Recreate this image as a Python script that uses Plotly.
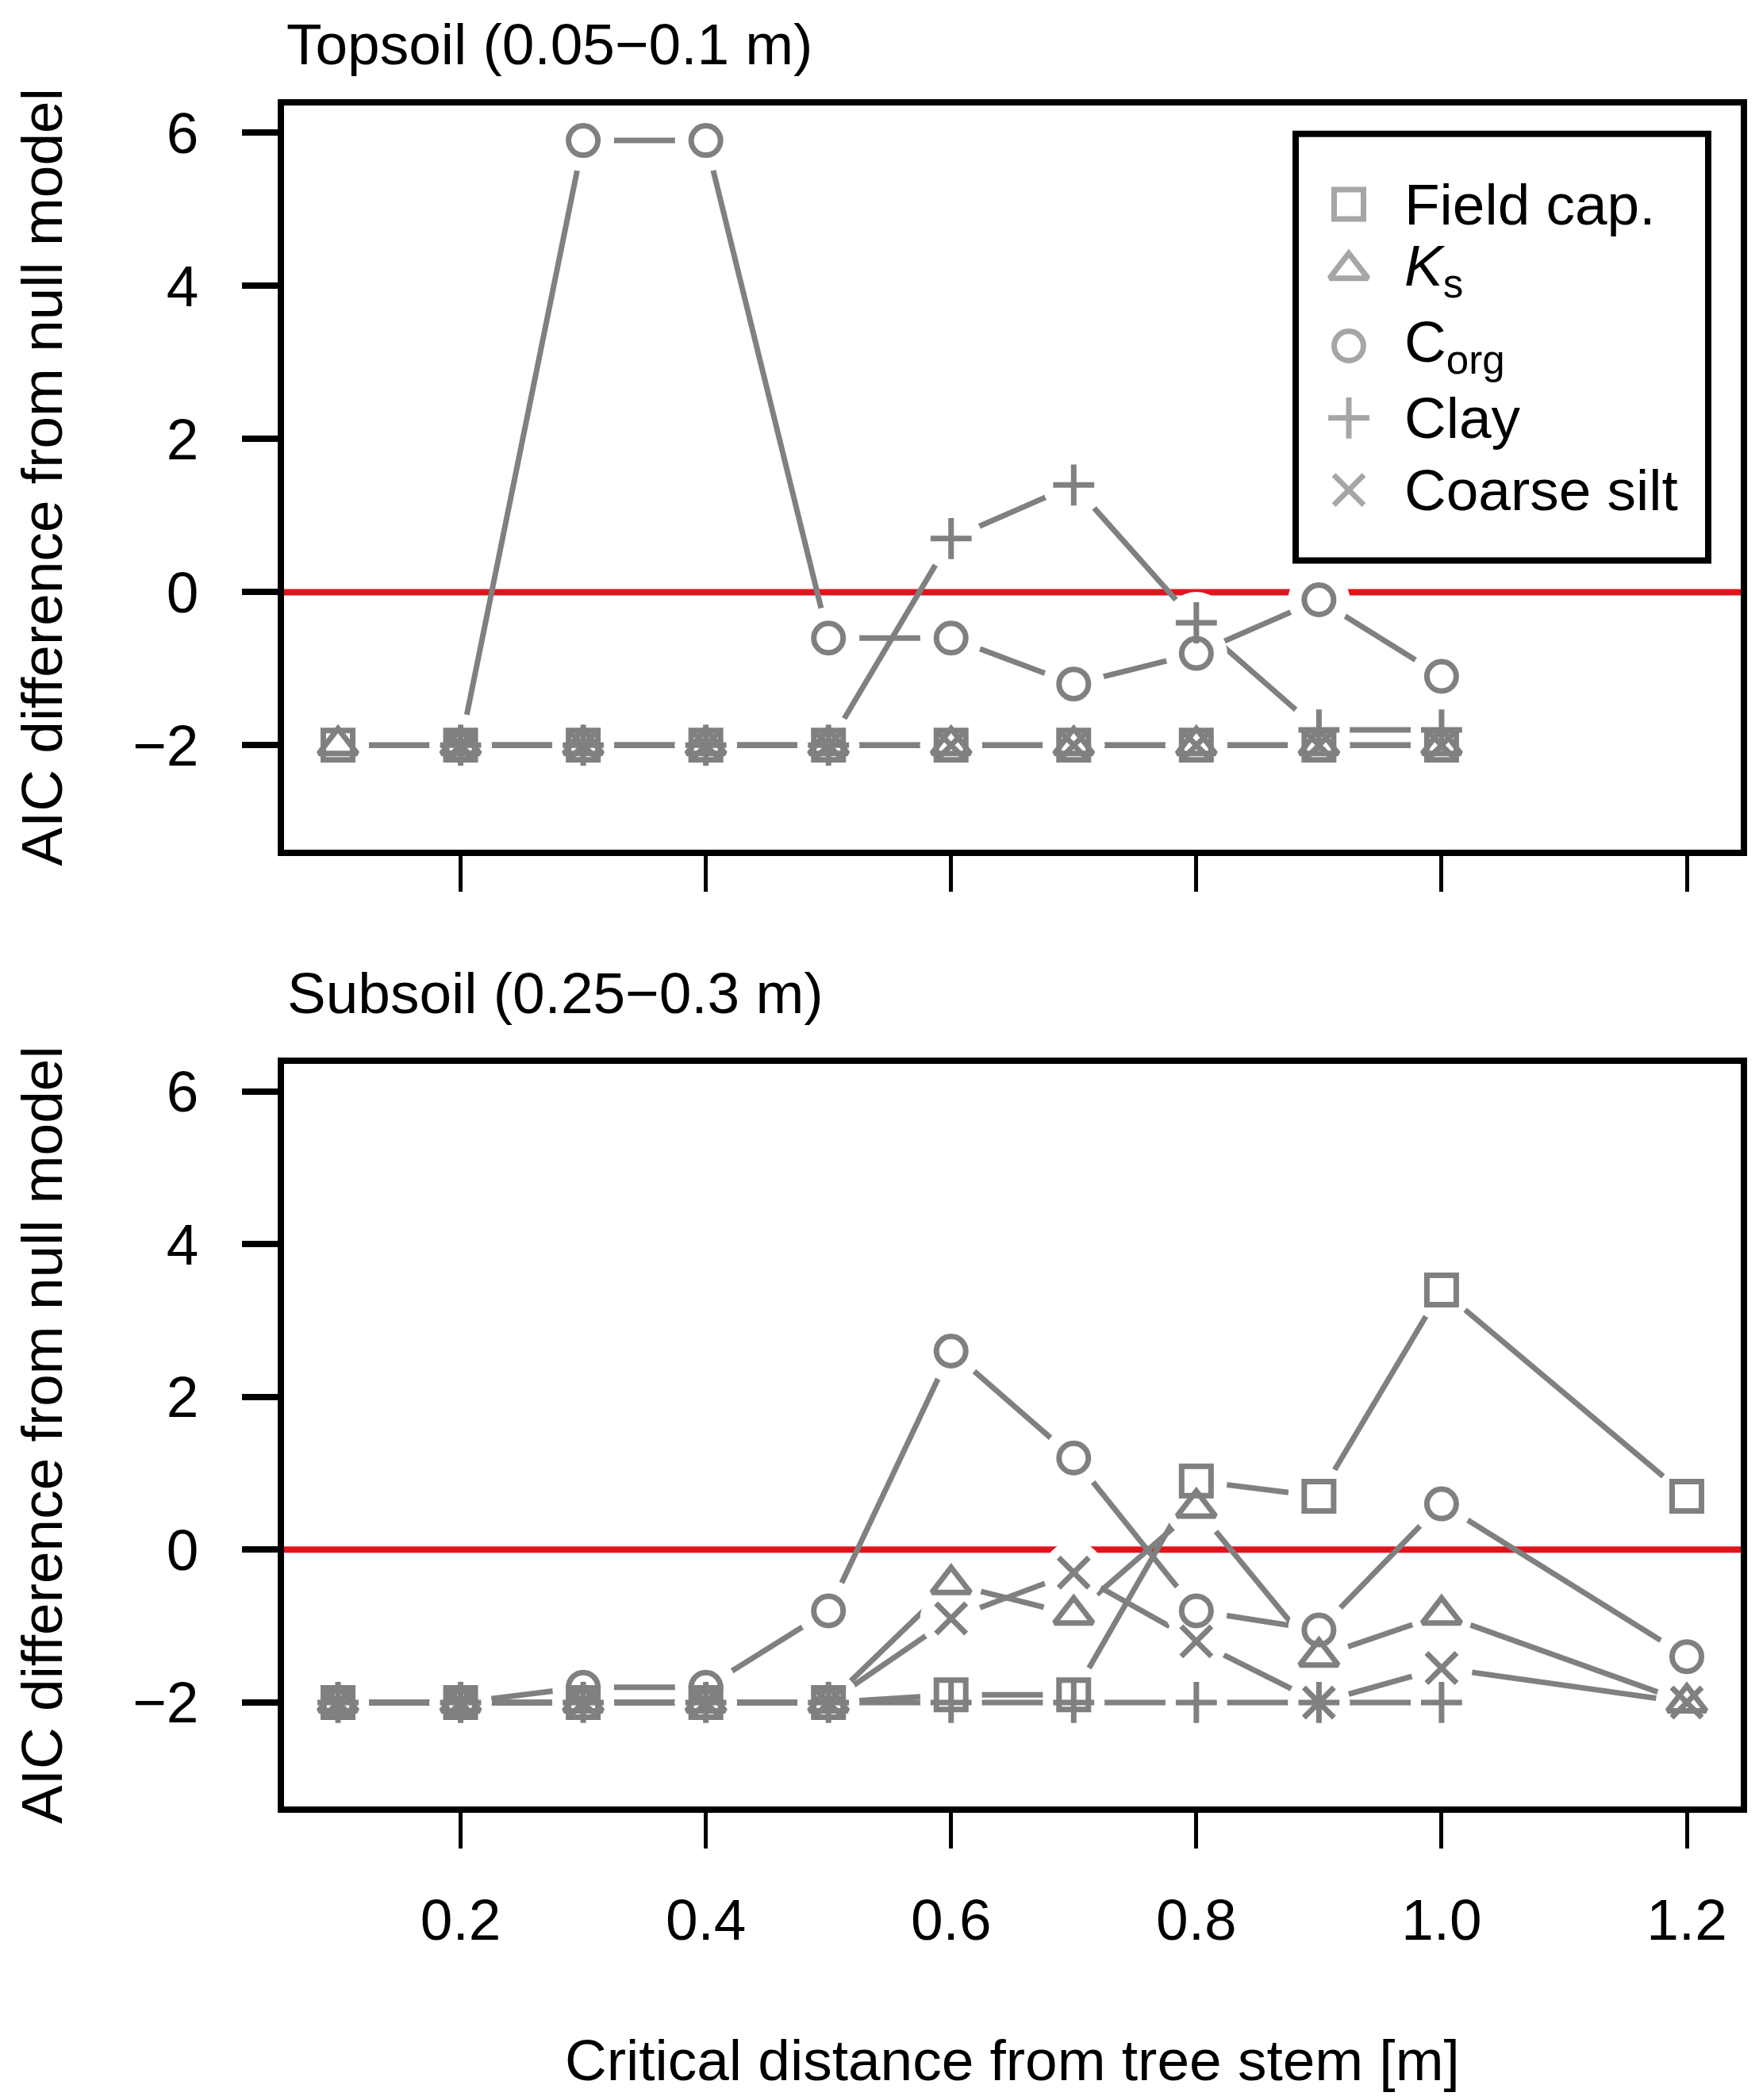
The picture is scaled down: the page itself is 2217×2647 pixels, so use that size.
import plotly.graph_objects as go

# critical distances from the tree stem (m)
dist_top = [0.1, 0.2, 0.3, 0.4, 0.5, 0.6, 0.7, 0.8, 0.9, 1.0]
dist_sub = [0.1, 0.2, 0.3, 0.4, 0.5, 0.6, 0.7, 0.8, 0.9, 1.0, 1.2]

# AIC difference from null model, topsoil (0.05-0.1 m)
top_fieldcap = [-2, -2, -2, -2, -2, -2, -2, -2, -2, -2]
top_ks = [-2, -2, -2, -2, -2, -2, -2, -2, -2, -2]
top_corg = [None, -2, 5.9, 5.9, -0.6, -0.6, -1.2, -0.8, -0.1, -1.1]
top_clay = [None, -2, -2, -2, -2, 0.7, 1.4, -0.4, -1.8, -1.8]
top_silt = [None, -2, -2, -2, -2, -2, -2, -2, -2, -2]

# AIC difference from null model, subsoil (0.25-0.3 m)
sub_fieldcap = [-2, -2, -2, -2, -2, -1.9, -1.9, 0.9, 0.7, 3.4, 0.7]
sub_ks = [-2, -2, -2, -2, -2, -0.45, -0.85, 0.55, -1.4, -0.85, -2]
sub_corg = [-2, -2, -1.8, -1.8, -0.8, 2.6, 1.2, -0.8, -1.05, 0.6, -1.4]
sub_clay = [-2, -2, -2, -2, -2, -2, -2, -2, -2, -2, None]
sub_silt = [-2, -2, -2, -2, -2, -0.9, -0.3, -1.2, -2, -1.55, -2]

labels = ["Field cap.", "<i>K</i><sub>s</sub>", "C<sub>org</sub>", "Clay", "Coarse silt"]
x_ticks = [0.2, 0.4, 0.6, 0.8, 1.0, 1.2]
y_ticks = [-2, 0, 2, 4, 6]

# styling
W, H = 2217, 2647
GREY = "#7f8080"
RED = "#e0141c"
FONT = "Liberation Sans, Arial, sans-serif"
FS = 73
symbols = ["square-open", "triangle-up-open", "circle-open", "cross-thin-open", "x-thin-open"]
sizes = [37, 42, 37, 37, 38]
txt = dict(family=FONT, size=FS, color="black")


def px(p):
    return p / W


def py(p):
    return 1 - p / H


panels = [
    ("x", "y", dist_top, [top_fieldcap, top_ks, top_corg, top_clay, top_silt]),
    ("x2", "y2", dist_sub, [sub_fieldcap, sub_ks, sub_corg, sub_clay, sub_silt]),
]

fig = go.Figure()

for xa, ya, xs, series in panels:
    # lines first
    for vals in series:
        fig.add_trace(go.Scatter(x=xs, y=vals, mode="lines", xaxis=xa, yaxis=ya,
                                 line=dict(color=GREY, width=7), showlegend=False,
                                 hoverinfo="skip"))
    # white gaps around points (like R type="b")
    for vals in series:
        fig.add_trace(go.Scatter(x=xs, y=vals, mode="markers", xaxis=xa, yaxis=ya,
                                 marker=dict(symbol="circle", size=78, color="white",
                                             line=dict(width=0)),
                                 showlegend=False, hoverinfo="skip"))
    # symbols
    for vals, name, sym, sz in zip(series, labels, symbols, sizes):
        fig.add_trace(go.Scatter(x=xs, y=vals, mode="markers", xaxis=xa, yaxis=ya,
                                 name=name,
                                 marker=dict(symbol=sym, size=sz, color=GREY,
                                             line=dict(color=GREY, width=7)),
                                 showlegend=False))

# hand-drawn legend box (R style) on its own pixel-scaled axes
leg_rows = [244, 327, 423, 514, 605]
fig.add_trace(go.Scatter(x=[1692] * len(labels), y=leg_rows, mode="markers",
                         xaxis="x3", yaxis="y3",
                         marker=dict(symbol=symbols, size=sizes, color=GREY,
                                     line=dict(color=GREY, width=7)),
                         showlegend=False, hoverinfo="skip"))

axis_common = dict(showline=True, mirror=True, linecolor="black", linewidth=8,
                   showgrid=False, zeroline=False, ticks="outside", ticklen=45,
                   tickcolor="black", tickfont=txt)

fig.update_layout(
    width=W, height=H,
    margin=dict(l=0, r=0, t=0, b=0),
    paper_bgcolor="white", plot_bgcolor="white",
    showlegend=False,
    font=txt,
    xaxis=dict(domain=[px(350), px(2186)], range=[0.056, 1.244], anchor="y",
               tickvals=x_ticks, showticklabels=False, tickwidth=5, **axis_common),
    yaxis=dict(domain=[py(1059), py(119)], range=[-3.36, 6.36], anchor="x",
               tickvals=y_ticks, tickwidth=8, ticklabelstandoff=40, **axis_common),
    xaxis2=dict(domain=[px(350), px(2186)], range=[0.056, 1.244], anchor="y2",
                tickvals=x_ticks, tickformat=".1f", tickwidth=5, ticklabelstandoff=28,
                **axis_common),
    yaxis2=dict(domain=[py(2268), py(1330)], range=[-3.36, 6.36], anchor="x2",
                tickvals=y_ticks, tickwidth=8, ticklabelstandoff=40, **axis_common),
    xaxis3=dict(domain=[px(1625), px(2145)], range=[1625, 2145], anchor="y3",
                visible=False, fixedrange=True),
    yaxis3=dict(domain=[py(694), py(155)], range=[694, 155], anchor="x3",
                visible=False, fixedrange=True),
)

# zero reference lines
for xa, ya in [("x", "y"), ("x2", "y2")]:
    fig.add_shape(type="line", xref=xa + " domain", yref=ya, x0=0, x1=1, y0=0, y1=0,
                  line=dict(color=RED, width=8), layer="below")

# legend frame
fig.add_shape(type="rect", xref="paper", yref="paper",
              x0=px(1625), x1=px(2145), y0=py(694), y1=py(155),
              line=dict(color="black", width=8))

for row, lab in zip(leg_rows, labels):
    fig.add_annotation(x=px(1760), y=py(row), xref="paper", yref="paper", text=lab,
                       showarrow=False, xanchor="left", yanchor="middle", font=txt)

# panel titles
fig.add_annotation(x=px(352), y=1, xref="paper", yref="paper",
                   text="Topsoil (0.05\u22120.1 m)", showarrow=False, borderpad=0,
                   xanchor="left", yanchor="top", font=txt)
fig.add_annotation(x=px(352), y=py(1240), xref="paper", yref="paper",
                   text="Subsoil (0.25\u22120.3 m)", showarrow=False,
                   xanchor="left", yanchor="middle", font=txt)

# axis titles
for yc in [589, 1799]:
    fig.add_annotation(x=px(45), y=py(yc), xref="paper", yref="paper",
                       text="AIC difference from null model", textangle=-90,
                       showarrow=False, xanchor="center", yanchor="middle", font=txt)
fig.add_annotation(x=px(1268), y=py(2588), xref="paper", yref="paper",
                   text="Critical distance from tree stem [m]", showarrow=False,
                   xanchor="center", yanchor="middle", font=txt)

fig.write_html("out.html")
